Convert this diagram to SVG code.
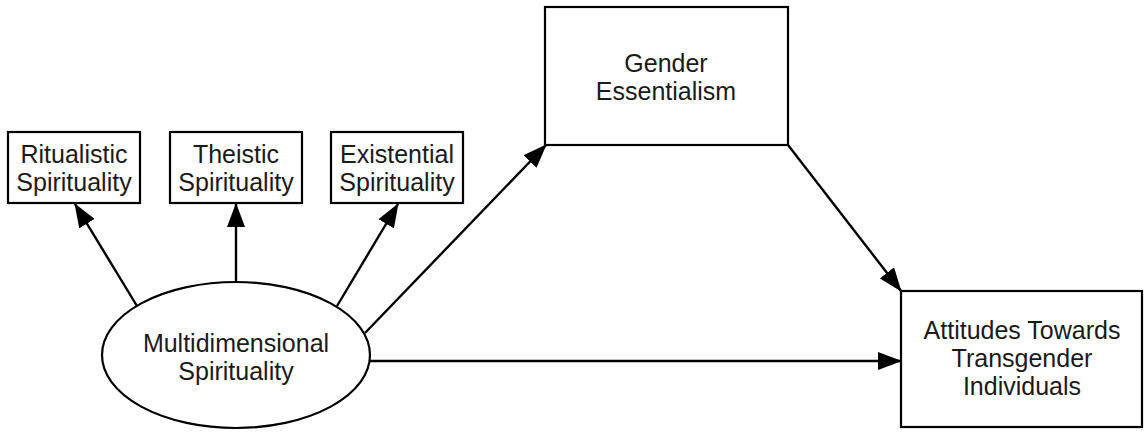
<svg xmlns="http://www.w3.org/2000/svg" width="1144" height="432" viewBox="0 0 1144 432">
<style>
.box{fill:#fff;stroke:#000;stroke-width:2.2}
.t{font-family:"Liberation Sans",Arial,sans-serif;font-size:25px;fill:#1a1a1a;text-anchor:middle}
.c{stroke:#000;stroke-width:2.4;fill:none;marker-end:url(#ah)}
</style>
<defs>
<marker id="ah" markerUnits="userSpaceOnUse" markerWidth="24" markerHeight="18" refX="23" refY="9" orient="auto" viewBox="0 0 24 18">
<path d="M0,0 L24,9 L0,18 z" fill="#000"/>
</marker>
</defs>
<rect width="1144" height="432" fill="#fff"/>
<g id="connectors">
<line class="c" x1="137" y1="306" x2="75" y2="204"/>
<line class="c" x1="236" y1="282" x2="236" y2="204"/>
<line class="c" x1="337" y1="306" x2="398" y2="204"/>
<line class="c" x1="365" y1="333" x2="546" y2="145"/>
<line class="c" x1="788" y1="145" x2="901" y2="291"/>
<line class="c" x1="370" y1="361" x2="901" y2="361"/>
</g>
<g id="ritualistic">
<rect class="box" x="8" y="132" width="132" height="71"/>
<text class="t" x="74" y="163">Ritualistic</text>
<text class="t" x="74" y="191">Spirituality</text>
</g>
<g id="theistic">
<rect class="box" x="170" y="132" width="132" height="71"/>
<text class="t" x="236" y="163">Theistic</text>
<text class="t" x="236" y="191">Spirituality</text>
</g>
<g id="existential">
<rect class="box" x="331" y="132" width="132" height="71"/>
<text class="t" x="397" y="163">Existential</text>
<text class="t" x="397" y="191">Spirituality</text>
</g>
<g id="multidimensional">
<ellipse class="box" cx="236" cy="355" rx="134" ry="73"/>
<text class="t" x="236" y="352">Multidimensional</text>
<text class="t" x="236" y="380">Spirituality</text>
</g>
<g id="gender">
<rect class="box" x="545" y="7" width="243" height="138"/>
<text class="t" x="666" y="72">Gender</text>
<text class="t" x="666" y="100">Essentialism</text>
</g>
<g id="attitudes">
<rect class="box" x="901" y="291" width="241" height="136"/>
<text class="t" x="1022" y="339">Attitudes Towards</text>
<text class="t" x="1022" y="367">Transgender</text>
<text class="t" x="1022" y="395">Individuals</text>
</g>
</svg>
